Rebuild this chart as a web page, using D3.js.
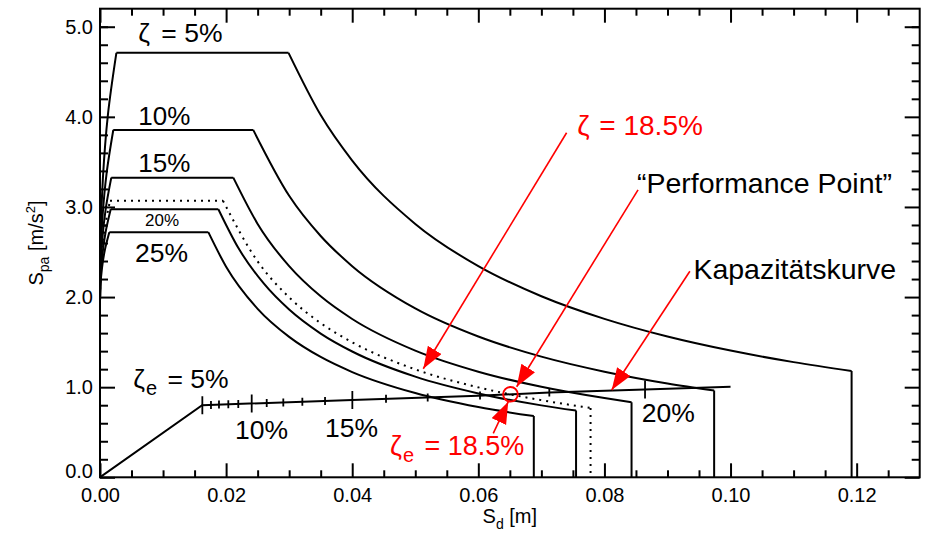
<!DOCTYPE html>
<html>
<head>
<meta charset="utf-8">
<script src="https://cdn.jsdelivr.net/npm/d3@7"></script>
<style>
  html, body { margin: 0; padding: 0; background: #fff; }
  svg { display: block; }
  text { font-family: "Liberation Sans", Arial, Helvetica, sans-serif; }
</style>
</head>
<body>
<svg id="chart" width="926" height="534"></svg>
<script>
// ---------------- DATA ----------------
const sdTicksMajor = [0, 0.02, 0.04, 0.06, 0.08, 0.10, 0.12];
const sdTickLabels = ["0.00", "0.02", "0.04", "0.06", "0.08", "0.10", "0.12"];
const sdTicksMinor = [0.005,0.01,0.015,0.025,0.03,0.035,0.045,0.05,0.055,0.065,0.07,0.075,0.085,0.09,0.095,0.105,0.11,0.115,0.125];
const saTicksMajor = [0, 1, 2, 3, 4, 5];
const saTickLabels = ["0.0", "1.0", "2.0", "3.0", "4.0", "5.0"];
const saTicksMinor = [0.2,0.4,0.6,0.8,1.2,1.4,1.6,1.8,2.2,2.4,2.6,2.8,3.2,3.4,3.6,3.8,4.2,4.4,4.6,4.8,5.0];

// Demand spectra (ADRS): rising branch, plateau end + descending branch, [Sd, Sa]
const rise05 = [[0,1.93],[0.00009,2.63],[0.00046,3.32],[0.00125,4.02],[0.0026,4.71]];
const fall05 = [[0.0299,4.71],[0.035,4.02],[0.04,3.515],[0.05,2.812],[0.06,2.343],[0.07,2.009],[0.08,1.758],[0.09,1.562],[0.10,1.406],[0.11,1.278],[0.1192,1.18]];
const rise10 = [[0,1.93],[0.00008,2.41],[0.0004,2.89],[0.00104,3.37],[0.00211,3.855]];
const fall10 = [[0.0243,3.855],[0.03,3.124],[0.035,2.678],[0.04,2.343],[0.05,1.874],[0.06,1.562],[0.07,1.339],[0.08,1.172],[0.09,1.041],[0.0974,0.962]];
const rise15 = [[0,1.93],[0.00008,2.28],[0.00035,2.63],[0.0009,2.976],[0.00179,3.325]];
const fall15 = [[0.02114,3.325],[0.025,2.812],[0.03,2.343],[0.035,2.008],[0.04,1.757],[0.05,1.406],[0.06,1.172],[0.07,1.004],[0.08,0.879],[0.0843,0.834]];
const rise185 = [[0,1.93],[0.00007,2.215],[0.00032,2.5],[0.00081,2.785],[0.00159,3.07]];
const fall185 = [[0.0195,3.07],[0.025,2.396],[0.03,1.997],[0.035,1.711],[0.04,1.498],[0.05,1.198],[0.06,0.998],[0.07,0.856],[0.0778,0.77]];
const rise20 = [[0,1.93],[0.00008,2.19],[0.00035,2.45],[0.00087,2.714],[0.0017,2.975]];
const fall20 = [[0.01877,2.975],[0.022,2.538],[0.026,2.148],[0.03,1.861],[0.035,1.595],[0.04,1.396],[0.05,1.117],[0.06,0.931],[0.07,0.798],[0.0755,0.74]];
const rise25 = [[0,1.93],[0.00007,2.1275],[0.00032,2.325],[0.00077,2.5225],[0.00148,2.72]];
const fall25 = [[0.01718,2.72],[0.02,2.337],[0.025,1.869],[0.03,1.558],[0.035,1.335],[0.04,1.168],[0.05,0.935],[0.06,0.779],[0.0688,0.679]];

const spectra = [
  {name: "5%",    rise: rise05,  fall: fall05,  dotted: false},
  {name: "10%",   rise: rise10,  fall: fall10,  dotted: false},
  {name: "15%",   rise: rise15,  fall: fall15,  dotted: false},
  {name: "18.5%", rise: rise185, fall: fall185, dotted: true},
  {name: "20%",   rise: rise20,  fall: fall20,  dotted: false},
  {name: "25%",   rise: rise25,  fall: fall25,  dotted: false}
];

// Capacity curve (Kapazitätskurve)
const capacity = [[0,0],[0.0162,0.800],[0.04,0.858],[0.06,0.906],[0.0713,0.940],[0.0864,0.975],[0.10,1.005]];
// effective damping marks along the capacity curve: [zeta_e %, Sd]
const capTicks = [[5,0.01623],[6,0.0176],[7,0.01887],[8,0.02035],[9,0.02193],[10,0.02406],[11,0.02644],[12,0.02907],[13,0.03209],[14,0.03569],[15,0.04002],[16,0.04536],[17,0.05197],[18,0.06027],[19,0.07126],[20,0.08644]];

const perfPoint = [0.0651, 0.921];

// text labels
const spectrumLabels = [
  {t: "10%",    sd: 0.00607, sa: 3.909, size: 26},
  {t: "15%",    sd: 0.00607, sa: 3.384, size: 26},
  {t: "20%",    sd: 0.00714, sa: 2.792, size: 17},
  {t: "25%",    sd: 0.00555, sa: 2.392, size: 26.5}
];
const capLabels = [
  {t: "10%", sd: 0.02141, sa: 0.4217},
  {t: "15%", sd: 0.03568, sa: 0.4505},
  {t: "20%", sd: 0.08591, sa: 0.617}
];
// arrows: from [Sd, Sa] to [Sd, Sa]
const arrows = [
  {from: [0.0740, 3.823], to: [0.05127, 1.205]},
  {from: [0.08533, 3.189], to: [0.06608, 1.005]},
  {from: [0.09355, 2.287], to: [0.08115, 0.969]},
  {from: [0.06237, 0.488], to: [0.06475, 0.839]}
];

// ---------------- CHART ----------------
const svg = d3.select("#chart");
const x = d3.scaleLinear().domain([0, 0.13]).range([100, 919.7]);
const y = d3.scaleLinear().domain([0, 5.2]).range([477.3, 8.7]);
const X0 = x.range()[0], X1 = x.range()[1], Y0 = y.range()[0], Y1 = y.range()[1];

const font = '"Liberation Sans", Arial, Helvetica, sans-serif';

// axes
const majLen = 14, minLen = 7;
function styleAxis(g) {
  g.select(".domain").remove();
  g.selectAll("line").attr("stroke", "#000").attr("stroke-width", 2);
  g.selectAll("text").attr("fill", "#000").attr("font-family", font).attr("font-size", 20);
}
svg.append("g").attr("transform", `translate(0,${Y0})`)
  .call(d3.axisBottom(x).tickValues(sdTicksMajor).tickSize(-majLen).tickPadding(10.5)
        .tickFormat((d, i) => sdTickLabels[i])).call(styleAxis);
svg.append("g").attr("transform", `translate(0,${Y0})`)
  .call(d3.axisBottom(x).tickValues(sdTicksMinor).tickSize(-minLen).tickFormat("")).call(styleAxis);
svg.append("g").attr("transform", `translate(0,${Y1})`)
  .call(d3.axisTop(x).tickValues(sdTicksMajor).tickSize(-majLen).tickFormat("")).call(styleAxis);
svg.append("g").attr("transform", `translate(0,${Y1})`)
  .call(d3.axisTop(x).tickValues(sdTicksMinor).tickSize(-minLen).tickFormat("")).call(styleAxis);
const yl = svg.append("g").attr("transform", `translate(${X0},0)`)
  .call(d3.axisLeft(y).tickValues(saTicksMajor).tickSize(-majLen - 1).tickPadding(7)
        .tickFormat((d, i) => saTickLabels[i])).call(styleAxis);
yl.selectAll(".tick").filter(d => d === 0).select("text").attr("dy", "0.0em");
svg.append("g").attr("transform", `translate(${X0},0)`)
  .call(d3.axisLeft(y).tickValues(saTicksMinor).tickSize(-minLen - 1).tickFormat("")).call(styleAxis);
svg.append("g").attr("transform", `translate(${X1},0)`)
  .call(d3.axisRight(y).tickValues(saTicksMajor).tickSize(-majLen - 1).tickFormat("")).call(styleAxis);
svg.append("g").attr("transform", `translate(${X1},0)`)
  .call(d3.axisRight(y).tickValues(saTicksMinor).tickSize(-minLen - 1).tickFormat("")).call(styleAxis);

// frame
svg.append("rect").attr("x", X0).attr("y", Y1).attr("width", X1 - X0).attr("height", Y0 - Y1)
  .attr("fill", "none").attr("stroke", "#000").attr("stroke-width", 2);

// axis titles
const xt = svg.append("text").attr("x", (X0 + X1) / 2).attr("y", 523).attr("text-anchor", "middle")
  .attr("font-size", 20).attr("fill", "#000");
xt.append("tspan").text("S");
xt.append("tspan").attr("font-size", 14).attr("dy", 6).text("d");
xt.append("tspan").attr("dy", -6).text(" [m]");

const yt = svg.append("text").attr("transform", `translate(43,${(Y0 + Y1) / 2}) rotate(-90)`)
  .attr("text-anchor", "middle").attr("font-size", 20).attr("fill", "#000");
yt.append("tspan").text("S");
yt.append("tspan").attr("font-size", 14).attr("dy", 6).text("pa");
yt.append("tspan").attr("dy", -6).text(" [m/s");
yt.append("tspan").attr("font-size", 13).attr("dy", -8).text("2");
yt.append("tspan").attr("dy", 8).text("]");

// clip
svg.append("clipPath").attr("id", "clip").append("rect")
  .attr("x", X0).attr("y", Y1).attr("width", X1 - X0).attr("height", Y0 - Y1);
const plot = svg.append("g").attr("clip-path", "url(#clip)");

const lineLin = d3.line().x(d => x(d[0])).y(d => y(d[1]));
const lineRise = d3.line().x(d => x(d[0])).y(d => y(d[1])).curve(d3.curveMonotoneY);
const lineFall = d3.line().x(d => x(d[0])).y(d => y(d[1])).curve(d3.curveMonotoneX);

spectra.forEach(s => {
  const plateau = [s.rise[s.rise.length - 1], s.fall[0]];
  const last = s.fall[s.fall.length - 1];
  const drop = [last, [last[0], 0]];
  const d = lineRise(s.rise) + lineLin(plateau) + lineFall(s.fall) + lineLin(drop);
  plot.append("path").attr("d", d).attr("fill", "none").attr("stroke", "#000")
    .attr("stroke-width", 2).attr("stroke-linejoin", "miter")
    .attr("stroke-dasharray", s.dotted ? "2,5" : null);
});

// capacity curve
plot.append("path").attr("d", lineLin(capacity)).attr("fill", "none")
  .attr("stroke", "#000").attr("stroke-width", 2);

function capSa(sd) {
  for (let i = 1; i < capacity.length; i++) {
    if (sd <= capacity[i][0]) {
      const a = capacity[i - 1], b = capacity[i];
      return a[1] + (b[1] - a[1]) * (sd - a[0]) / (b[0] - a[0]);
    }
  }
  return capacity[capacity.length - 1][1];
}
plot.selectAll(".ctick").data(capTicks).enter().append("line")
  .attr("x1", d => x(d[1])).attr("x2", d => x(d[1]))
  .attr("y1", d => y(capSa(d[1])) - (d[0] % 5 === 0 ? 9 : 4))
  .attr("y2", d => y(capSa(d[1])) + (d[0] % 5 === 0 ? 9 : 4))
  .attr("stroke", "#000").attr("stroke-width", 1.8);

// performance point
plot.append("circle").attr("cx", x(perfPoint[0])).attr("cy", y(perfPoint[1])).attr("r", 7.3)
  .attr("fill", "none").attr("stroke", "#ff0000").attr("stroke-width", 2);

// arrows
const defs = svg.append("defs");
defs.append("marker").attr("id", "ah").attr("markerUnits", "userSpaceOnUse")
  .attr("markerWidth", 24).attr("markerHeight", 18).attr("refX", 22).attr("refY", 8)
  .attr("orient", "auto")
  .append("path").attr("d", "M0,0 L22,8 L0,16 Z").attr("fill", "#ff0000");
svg.selectAll(".arrow").data(arrows).enter().append("line")
  .attr("x1", d => x(d.from[0])).attr("y1", d => y(d.from[1]))
  .attr("x2", d => x(d.to[0])).attr("y2", d => y(d.to[1]))
  .attr("stroke", "#ff0000").attr("stroke-width", 1.6).attr("marker-end", "url(#ah)");

// ζ = 5%
const z5 = svg.append("text").attr("x", x(0.00607)).attr("y", y(4.834)).attr("font-size", 26.5).attr("fill", "#000");
z5.append("tspan").text("ζ");
z5.append("tspan").attr("dx", 4).text(" = 5%");

// spectrum labels
spectrumLabels.forEach(l => {
  svg.append("text").attr("x", x(l.sd)).attr("y", y(l.sa)).attr("font-size", l.size)
    .attr("fill", "#000").text(l.t);
});
capLabels.forEach(l => {
  svg.append("text").attr("x", x(l.sd)).attr("y", y(l.sa)).attr("font-size", 26.5)
    .attr("fill", "#000").text(l.t);
});

// ζe = 5%
const ze = svg.append("text").attr("x", x(0.00528)).attr("y", y(0.9876)).attr("font-size", 26.5).attr("fill", "#000");
ze.append("tspan").text("ζ");
ze.append("tspan").attr("font-size", 20).attr("dy", 7).attr("dx", 1).text("e");
ze.append("tspan").attr("dy", -7).attr("dx", 3).text(" = 5%");

// ζe = 18.5% (red)
const zr = svg.append("text").attr("x", x(0.04599)).attr("y", y(0.2474)).attr("font-size", 27).attr("fill", "#ff0000");
zr.append("tspan").text("ζ");
zr.append("tspan").attr("font-size", 20).attr("dy", 7).attr("dx", 1).text("e");
zr.append("tspan").attr("dy", -7).attr("dx", 3).text(" = 18.5%");

// ζ = 18.5% (red)
const zz = svg.append("text").attr("x", x(0.07568)).attr("y", y(3.80)).attr("font-size", 28)
  .attr("fill", "#ff0000");
zz.append("tspan").text("ζ");
zz.append("tspan").attr("dx", 2).text(" = 18.5%");

svg.append("text").attr("x", x(0.08516)).attr("y", y(3.158)).attr("font-size", 28.5)
  .attr("fill", "#000").text("“Performance Point”");
svg.append("text").attr("x", x(0.09411)).attr("y", y(2.20)).attr("font-size", 28.5)
  .attr("fill", "#000").text("Kapazitätskurve");
</script>
</body>
</html>
